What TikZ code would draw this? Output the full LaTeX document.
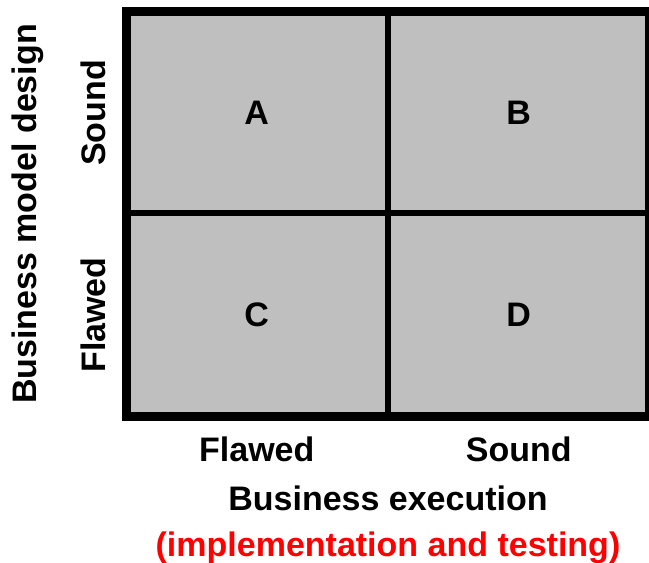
\documentclass[tikz,border=0pt]{standalone}
\usepackage{fontspec}
\setmainfont{Liberation Sans}
\usepackage{xcolor}
\usetikzlibrary{positioning}

\tikzset{
  cell/.style={draw=black, line width=6pt, fill=gray!50!white, outer sep=0pt,
    inner sep=0pt, minimum width=261.5pt, minimum height=203.5pt,
    font=\fontsize{34}{40}\selectfont\bfseries},
  lbl/.style={font=\fontsize{34}{40}\selectfont\bfseries, inner sep=0pt, anchor=base},
  frame/.style={draw=black, line width=9pt}
}

\begin{document}
\begin{tikzpicture}[x=1pt,y=-1pt]
                \useasboundingbox (0,0) rectangle (649,563);
                % the four cells
                \node[cell] (A) at (256.75,112.75) {A};
                \node[cell] (B) at (518.75,112.75) {B};
                \node[cell] (C) at (256.75,314.75) {C};
                \node[cell] (D) at (518.75,314.75) {D};
                \draw[frame] (A.north west) rectangle (D.south east);
                % axis labels
                \node[lbl] (xflawed) at ([yshift=-44.5pt]C.south) {Flawed};
                \node[lbl] (xsound) at ([yshift=-44.5pt]D.south) {Sound};
                \node[lbl] (xtitle) at (388,510) {Business execution};
                \node[lbl, text=red] (xsub) at (388,556) {(implementation and testing)};
                \node[lbl, rotate=90] (ysound) at (105,113) {Sound};
                \node[lbl, rotate=90] (yflawed) at (105,315) {Flawed};
                \node[lbl, rotate=90] (ytitle) at (36,214) {Business model design};
            \end{tikzpicture}
\end{document}
